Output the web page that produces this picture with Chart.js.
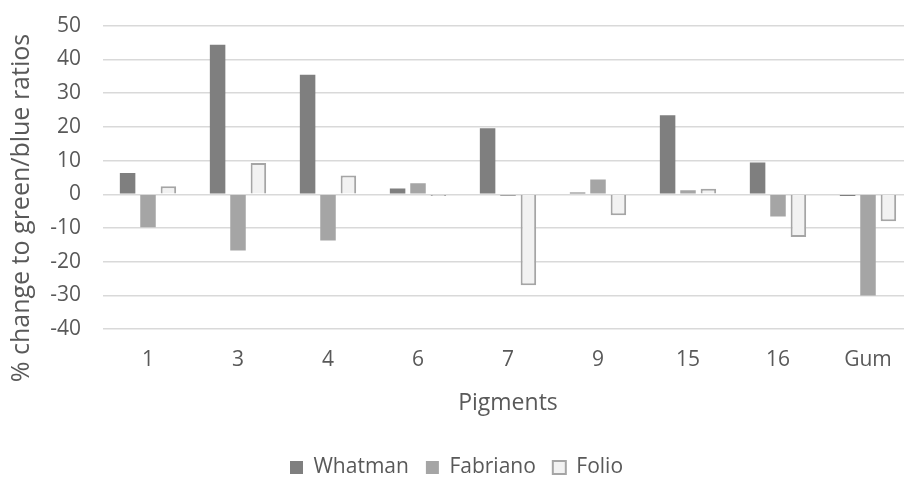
<!DOCTYPE html>
<html>
<head>
<meta charset="utf-8">
<script src="https://cdn.jsdelivr.net/npm/chart.js@4.4.1/dist/chart.umd.min.js"></script>
<style>
  html, body { margin: 0; padding: 0; background: #fff; overflow: hidden; }
  #wrap { width: 913px; height: 497px; margin-top: -9px; }
</style>
</head>
<body>
<div id="wrap"><canvas id="chart"></canvas></div>
<script>
const pigments = ['1', '3', '4', '6', '7', '9', '15', '16', 'Gum'];
const whatman   = [6.3, 44.3, 35.4, 1.7, 19.6, 0.5, 23.4, 9.4, -0.5];
const fabriano  = [-9.8, -16.7, -13.7, 3.3, -0.5, 4.4, 1.2, -6.6, -30];
const folio     = [2.4, 9.3, 5.6, -0.5, -27, -6.2, 1.6, -12.7, -8];
const yTicks    = [50, 40, 30, 20, 10, 0, -10, -20, -30, -40];
const yTitle    = '% change to green/blue ratios';

const textColor = '#595959';
const font = 'Open Sans';

// Vertical axis title, centred on the whole chart height rather than the plot area
const yTitlePlugin = {
  id: 'yTitle',
  afterDraw(chart) {
    const ctx = chart.ctx;
    ctx.save();
    ctx.translate(22, 217);
    ctx.rotate(-Math.PI / 2);
    ctx.fillStyle = textColor;
    ctx.font = `25px "${font}"`;
    ctx.textAlign = 'center';
    ctx.textBaseline = 'middle';
    ctx.fillText(yTitle, 0, 0);
    ctx.restore();
  }
};

new Chart(document.getElementById('chart'), {
  type: 'bar',
  data: {
    labels: pigments,
    datasets: [
      { label: 'Whatman', data: whatman, backgroundColor: '#7f7f7f', borderColor: '#7f7f7f', borderWidth: 0 },
      { label: 'Fabriano', data: fabriano, backgroundColor: '#a5a5a5', borderColor: '#a5a5a5', borderWidth: 0 },
      { label: 'Folio', data: folio, backgroundColor: '#f2f2f2', borderColor: '#a5a5a5', borderWidth: 2 }
    ]
  },
  plugins: [yTitlePlugin],
  options: {
    responsive: true,
    maintainAspectRatio: false,
    animation: false,
    layout: { padding: { top: 4, right: 0, left: 0, bottom: 0 } },
    datasets: { bar: { categoryPercentage: 0.68, barPercentage: 0.76 } },
    plugins: {
      tooltip: { enabled: false },
      legend: {
        position: 'bottom',
        labels: {
          color: textColor,
          font: { family: font, size: 21 },
          boxWidth: 13,
          boxHeight: 13,
          padding: 17
        }
      }
    },
    scales: {
      x: {
        grid: { display: false },
        border: { display: false },
        ticks: { color: textColor, font: { family: font, size: 21 }, padding: 10 },
        title: { display: true, text: 'Pigments', color: textColor, font: { family: font, size: 23 }, padding: { top: 7, bottom: 23 } }
      },
      y: {
        min: -40,
        max: 50,
        afterBuildTicks: (axis) => { axis.ticks = yTicks.map(v => ({ value: v })); },
        afterFit: (axis) => { axis.width = 103; },
        grid: { color: '#d9d9d9', lineWidth: 1.5, drawTicks: false },
        border: { display: false },
        ticks: { color: textColor, font: { family: font, size: 21 }, padding: 22 }
      }
    }
  }
});
</script>
</body>
</html>
